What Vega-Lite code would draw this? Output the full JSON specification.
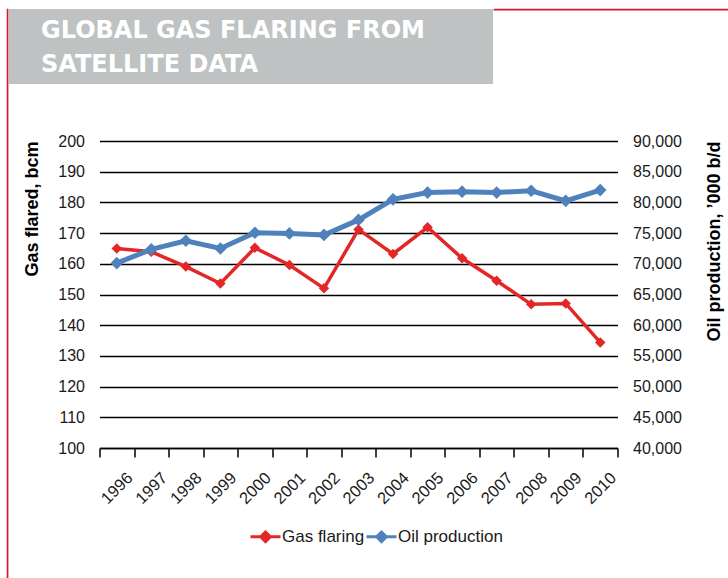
{
  "$schema": "https://vega.github.io/schema/vega-lite/v6.json",
  "background": "white",
  "padding": {"left": 6, "top": 8, "right": 0, "bottom": 0},
  "spacing": 0,
  "config": {"view": {"stroke": null}, "font": "Liberation Sans"},
  "hconcat": [
    {
      "width": 0.5,
      "height": 570,
      "view": {"stroke": "#d7182a", "strokeWidth": 1.2, "fill": null},
      "data": {"values": []},
      "mark": "point"
    },
    {
      "spacing": 49,
      "vconcat": [
        {
          "spacing": 0,
          "hconcat": [
            {
              "width": 484,
              "height": 75,
              "view": {"fill": "#bfc2c3", "stroke": null},
              "data": {"values": [
                {"line": 1, "text": "GLOBAL GAS FLARING FROM"},
                {"line": 2, "text": "SATELLITE DATA"}
              ]},
              "mark": {"type": "text", "align": "left", "baseline": "alphabetic", "dx": 32, "color": "white", "font": "DejaVu Sans", "fontWeight": "bold", "fontSize": 24},
              "encoding": {
                "y": {"field": "line", "type": "quantitative", "scale": {"domain": [0.126, 2.372], "reverse": true, "zero": false, "nice": false}, "axis": null},
                "x": {"datum": 0, "type": "quantitative", "scale": {"domain": [0, 1]}, "axis": null},
                "text": {"field": "text"}
              }
            },
            {
              "width": 238,
              "height": 0.5,
              "view": {"stroke": "#d7182a", "strokeWidth": 1.2, "fill": null},
              "data": {"values": []},
              "mark": "point"
            }
          ]
        },
        {
          "spacing": 13.5,
          "hconcat": [
            {
              "width": 1,
              "height": 1,
              "view": {"stroke": null, "fill": null},
              "data": {"values": []},
              "mark": "point"
            },
            {
              "width": 518,
              "height": 307,
              "data": {"values": [
                {"year": "1996", "gas": 165.0, "oil": 70100},
                {"year": "1997", "gas": 163.9, "oil": 72350},
                {"year": "1998", "gas": 159.1, "oil": 73750},
                {"year": "1999", "gas": 153.6, "oil": 72500},
                {"year": "2000", "gas": 165.2, "oil": 75050},
                {"year": "2001", "gas": 159.6, "oil": 74950},
                {"year": "2002", "gas": 152.0, "oil": 74700},
                {"year": "2003", "gas": 171.2, "oil": 77150},
                {"year": "2004", "gas": 163.2, "oil": 80500},
                {"year": "2005", "gas": 171.9, "oil": 81600},
                {"year": "2006", "gas": 161.8, "oil": 81750},
                {"year": "2007", "gas": 154.5, "oil": 81600},
                {"year": "2008", "gas": 146.8, "oil": 81900},
                {"year": "2009", "gas": 147.1, "oil": 80250},
                {"year": "2010", "gas": 134.4, "oil": 82000}
              ]},
              "encoding": {
                "x": {
                  "field": "year", "type": "ordinal",
                  "scale": {"paddingInner": 0, "paddingOuter": 0},
                  "axis": {
                    "title": null,
                    "labelAngle": -45, "labelAlign": "center", "labelBaseline": "middle", "labelPadding": 31,
                    "labelFontSize": 16.5, "labelColor": "#1a1a1a", "labelFont": "Liberation Sans",
                    "domainColor": "#000", "domainWidth": 1.5, "tickColor": "#000", "tickWidth": 1.5,
                    "tickSize": 9, "tickBand": "extent", "grid": false
                  }
                }
              },
              "layer": [
                {
                  "encoding": {
                    "y": {
                      "field": "gas", "type": "quantitative",
                      "scale": {"domain": [100, 200], "zero": false, "nice": false},
                      "axis": {
                        "orient": "left", "values": [100, 110, 120, 130, 140, 150, 160, 170, 180, 190, 200],
                        "title": "Gas flared, bcm", "titleFontSize": 18, "titleFontWeight": "bold", "titleColor": "#000",
                        "titleAnchor": "end", "titlePadding": 16, "titleFont": "Liberation Sans",
                        "labelFontSize": 16, "labelPadding": 15, "labelColor": "#1a1a1a", "labelFont": "Liberation Sans",
                        "domain": false, "ticks": false, "grid": true, "gridColor": "#000", "gridWidth": 1.5
                      }
                    },
                    "color": {
                      "datum": "Gas flaring", "type": "nominal",
                      "scale": {"domain": ["Gas flaring", "Oil production"], "range": ["#e32626", "#4f81bd"]},
                      "legend": {
                        "orient": "none", "legendX": 242, "legendY": 511, "direction": "horizontal", "title": null,
                        "symbolType": "M-1,0H1M0,-0.32L0.32,0L0,0.32L-0.32,0Z", "symbolSize": 900, "symbolStrokeWidth": 3,
                        "labelFontSize": 17, "labelOffset": 0, "columnPadding": -5, "labelColor": "#1a1a1a", "labelFont": "Liberation Sans"
                      }
                    }
                  },
                  "layer": [
                    {"mark": {"type": "line", "strokeWidth": 3.5}},
                    {"mark": {"type": "point", "shape": "diamond", "filled": true, "size": 110, "opacity": 1}}
                  ]
                },
                {
                  "encoding": {
                    "y": {
                      "field": "oil", "type": "quantitative",
                      "scale": {"domain": [40000, 90000], "zero": false, "nice": false},
                      "axis": {
                        "orient": "right", "values": [40000, 45000, 50000, 55000, 60000, 65000, 70000, 75000, 80000, 85000, 90000],
                        "format": ",d",
                        "title": "Oil production, ’000 b/d", "titleFontSize": 18, "titleFontWeight": "bold", "titleColor": "#000",
                        "titleAngle": -90, "titleAlign": "right", "titleAnchor": "end", "titleBaseline": "top", "titlePadding": 24,
                        "titleFont": "Liberation Sans",
                        "labelFontSize": 16, "labelPadding": 15, "labelColor": "#1a1a1a", "labelFont": "Liberation Sans",
                        "domain": false, "ticks": false, "grid": false
                      }
                    },
                    "color": {
                      "datum": "Oil production", "type": "nominal",
                      "scale": {"domain": ["Gas flaring", "Oil production"], "range": ["#e32626", "#4f81bd"]}
                    }
                  },
                  "layer": [
                    {"mark": {"type": "line", "strokeWidth": 5}},
                    {"mark": {"type": "point", "shape": "diamond", "filled": true, "size": 160, "opacity": 1}}
                  ]
                }
              ],
              "resolve": {"scale": {"y": "independent"}}
            }
          ]
        }
      ]
    }
  ]
}
